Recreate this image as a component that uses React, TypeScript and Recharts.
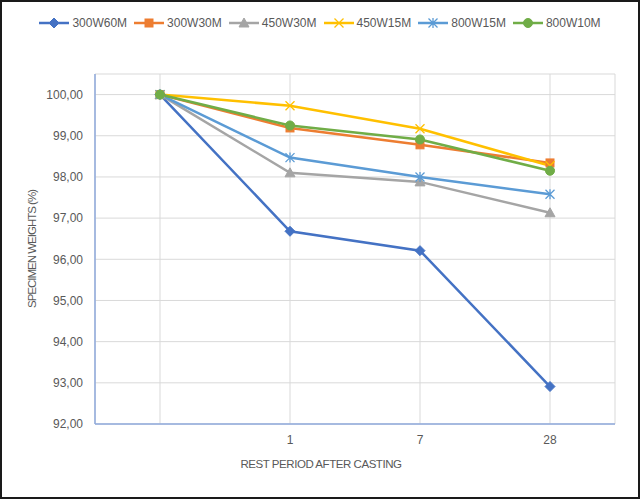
import React from "react";
import {
  LineChart,
  Line,
  XAxis,
  YAxis,
  CartesianGrid,
} from "recharts";

const days = ["", "1", "7", "28"];

const s300W60M = [100, 96.68, 96.21, 92.91];
const s300W30M = [100, 99.19, 98.78, 98.34];
const s450W30M = [100, 98.1, 97.88, 97.13];
const s450W15M = [100, 99.73, 99.17, 98.27];
const s800W15M = [100, 98.47, 98.0, 97.58];
const s800W10M = [100, 99.25, 98.91, 98.15];

const yTicks = [92, 93, 94, 95, 96, 97, 98, 99, 100];

const FONT = '"Liberation Sans", Arial, sans-serif';
const TEXT = "#595959";
const BORDER = "#8FAADC";

type Shape = "diamond" | "square" | "triangle" | "x" | "star" | "circle";

const series: { key: string; values: number[]; color: string; shape: Shape }[] = [
  { key: "300W60M", values: s300W60M, color: "#4472C4", shape: "diamond" },
  { key: "300W30M", values: s300W30M, color: "#ED7D31", shape: "square" },
  { key: "450W30M", values: s450W30M, color: "#A5A5A5", shape: "triangle" },
  { key: "450W15M", values: s450W15M, color: "#FFC000", shape: "x" },
  { key: "800W15M", values: s800W15M, color: "#5B9BD5", shape: "star" },
  { key: "800W10M", values: s800W10M, color: "#70AD47", shape: "circle" },
];

const data = days.map((day, i) => {
  const row: Record<string, any> = { day };
  series.forEach((s) => {
    row[s.key] = s.values[i];
  });
  return row;
});

const formatTick = (v: number) => v.toFixed(2).replace(".", ",");

function Marker({ shape, color, cx, cy }: { shape: Shape; color: string; cx: number; cy: number }) {
  switch (shape) {
    case "diamond":
      return (
        <path
          d={`M${cx},${cy - 5} L${cx + 5},${cy} L${cx},${cy + 5} L${cx - 5},${cy} Z`}
          fill={color}
          stroke={color}
        />
      );
    case "square":
      return <rect x={cx - 4} y={cy - 4} width={8} height={8} fill={color} stroke={color} />;
    case "triangle":
      return (
        <path
          d={`M${cx},${cy - 5} L${cx + 5},${cy + 4} L${cx - 5},${cy + 4} Z`}
          fill={color}
          stroke={color}
        />
      );
    case "x":
      return (
        <path
          d={`M${cx - 4.5},${cy - 4.5} L${cx + 4.5},${cy + 4.5} M${cx + 4.5},${cy - 4.5} L${cx - 4.5},${cy + 4.5}`}
          stroke={color}
          strokeWidth={1.3}
          fill="none"
        />
      );
    case "star":
      return (
        <path
          d={`M${cx - 4.5},${cy - 4.5} L${cx + 4.5},${cy + 4.5} M${cx + 4.5},${cy - 4.5} L${cx - 4.5},${cy + 4.5} M${cx},${cy - 5} L${cx},${cy + 5}`}
          stroke={color}
          strokeWidth={1.3}
          fill="none"
        />
      );
    default:
      return <circle cx={cx} cy={cy} r={4.5} fill={color} stroke={color} />;
  }
}

function ChartLegend() {
  return (
    <div
      style={{
        position: "absolute",
        left: 0,
        top: 14,
        width: 640,
        display: "flex",
        justifyContent: "center",
        gap: 7,
        fontFamily: FONT,
        fontSize: 12,
        color: TEXT,
        lineHeight: "18px",
      }}
    >
      {series.map((s) => (
        <div key={s.key} style={{ display: "flex", alignItems: "center" }}>
          <svg width={30} height={18}>
            <line x1={0} y1={9} x2={30} y2={9} stroke={s.color} strokeWidth={2.5} />
            <Marker shape={s.shape} color={s.color} cx={15} cy={9} />
          </svg>
          <span style={{ marginLeft: 3, whiteSpace: "nowrap" }}>{s.key}</span>
        </div>
      ))}
    </div>
  );
}

export default function App() {
  return (
    <div
      style={{
        position: "absolute",
        left: 0,
        top: 0,
        width: 640,
        height: 499,
        background: "#fff",
      }}
    >
      <LineChart
        width={640}
        height={499}
        data={data}
        margin={{ top: 74, right: 25, left: 0, bottom: 0 }}
      >
        <CartesianGrid stroke="#D9D9D9" strokeWidth={1} />
        <XAxis
          dataKey="day"
          height={75}
          padding={{ left: 65, right: 65 }}
          axisLine={{ stroke: BORDER, strokeWidth: 1.5 }}
          tickLine={false}
          tickMargin={5}
          tick={{ fill: TEXT, fontSize: 12, fontFamily: FONT }}
          interval={0}
          label={{
            content: ({ viewBox }: any) => (
              <text
                x={viewBox.x + viewBox.width / 2 - 34}
                y={viewBox.y + 44}
                textAnchor="middle"
                fill={TEXT}
                fontSize={11.5}
                letterSpacing={-0.45}
                fontFamily={FONT}
              >
                REST PERIOD AFTER CASTING
              </text>
            ),
          }}
        />
        <XAxis
          xAxisId="top"
          dataKey="day"
          orientation="top"
          height={0}
          tick={false}
          tickLine={false}
          axisLine={{ stroke: BORDER, strokeWidth: 1.5 }}
        />
        <YAxis
          width={95}
          domain={[92, 100.5]}
          ticks={yTicks}
          tickFormatter={formatTick}
          axisLine={{ stroke: BORDER, strokeWidth: 1.5 }}
          tickLine={false}
          tickMargin={6}
          tick={{ fill: TEXT, fontSize: 12, fontFamily: FONT }}
          label={{
            content: ({ viewBox }: any) => {
              const x = viewBox.x + 36;
              const y = viewBox.y + viewBox.height / 2;
              return (
                <text
                  x={x}
                  y={y}
                  transform={`rotate(-90 ${x} ${y})`}
                  textAnchor="middle"
                  fill={TEXT}
                  fontSize={11.5}
                  letterSpacing={-1}
                  fontFamily={FONT}
                >
                  SPECIMEN WEIGHTS (%)
                </text>
              );
            },
          }}
        />
        <YAxis
          yAxisId="right"
          orientation="right"
          width={0}
          domain={[92, 100.5]}
          tick={false}
          tickLine={false}
          axisLine={{ stroke: BORDER, strokeWidth: 1.5 }}
        />
        {series.map((s) => (
          <Line
            key={s.key}
            dataKey={s.key}
            stroke={s.color}
            strokeWidth={2.5}
            isAnimationActive={false}
            activeDot={false}
            dot={(props: any) => (
              <Marker
                key={`${s.key}-${props.index}`}
                shape={s.shape}
                color={s.color}
                cx={props.cx}
                cy={props.cy}
              />
            )}
          />
        ))}
      </LineChart>
      <ChartLegend />
      <div
        style={{
          position: "absolute",
          left: 0,
          top: 0,
          width: 640,
          height: 499,
          boxSizing: "border-box",
          border: "2px solid #1a1a1a",
          pointerEvents: "none",
        }}
      />
    </div>
  );
}
